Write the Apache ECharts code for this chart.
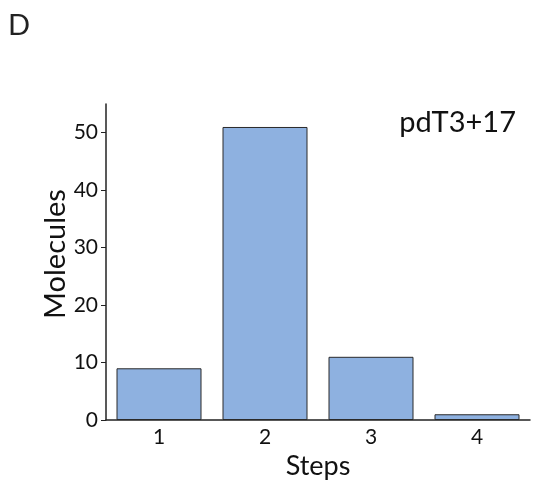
<!DOCTYPE html>
<html>
<head>
<meta charset="utf-8">
<script src="https://cdn.jsdelivr.net/npm/echarts@6/dist/echarts.min.js"></script>
<style>
html,body{margin:0;padding:0;background:#fff;}
#main{width:534px;height:481px;}
</style>
</head>
<body>
<div id="main"></div>
<script>
// data
const steps = ['1', '2', '3', '4']
const molecules = [9, 51, 11, 1]
const panelLabel = 'D'
const sampleName = 'pdT3+17'

const font = 'Lato, "Open Sans", sans-serif'
const chart = echarts.init(document.getElementById('main'))
chart.setOption({
    animation: false,
    textStyle: {fontFamily: font},
    title: [
        {text: panelLabel, left: 3, top: 6, textStyle: {fontSize: 29, fontWeight: 'normal', color: '#222', fontFamily: font}},
        {text: sampleName, right: 13, top: 103, textStyle: {fontSize: 29, fontWeight: 'normal', color: '#111', fontFamily: font}}
    ],
    grid: {left: 106, right: 4, top: 104, bottom: 61, containLabel: false, outerBoundsMode: 'none'},
    xAxis: {
        type: 'category',
        data: steps,
        name: 'Steps',
        nameLocation: 'middle',
        nameGap: 27,
        nameTextStyle: {fontSize: 27, color: '#111', fontFamily: font},
        axisLine: {lineStyle: {color: '#222', width: 1.5}},
        axisTick: {show: false},
        axisLabel: {fontSize: 21, color: '#111', margin: 7, fontFamily: font}
    },
    yAxis: {
        type: 'value',
        min: 0,
        max: 55,
        interval: 10,
        name: 'Molecules',
        nameLocation: 'middle',
        nameGap: 36,
        nameMoveOverlap: false,
        nameTextStyle: {fontSize: 29, color: '#111', fontFamily: font, padding: [0, 0, 0, 16]},
        axisLine: {show: true, lineStyle: {color: '#222', width: 1.5}},
        axisTick: {show: true, length: 5, lineStyle: {color: '#222'}},
        splitLine: {show: false},
        axisLabel: {fontSize: 21, color: '#111', margin: 8, fontFamily: font, showMaxLabel: false,
            formatter: v => (v % 10 === 0 ? String(v) : '')}
    },
    series: [{
        type: 'bar',
        data: molecules,
        barWidth: 85,
        itemStyle: {color: '#8EB1E0', borderColor: '#2a2a2a', borderWidth: 1}
    }]
})
</script>
</body>
</html>
